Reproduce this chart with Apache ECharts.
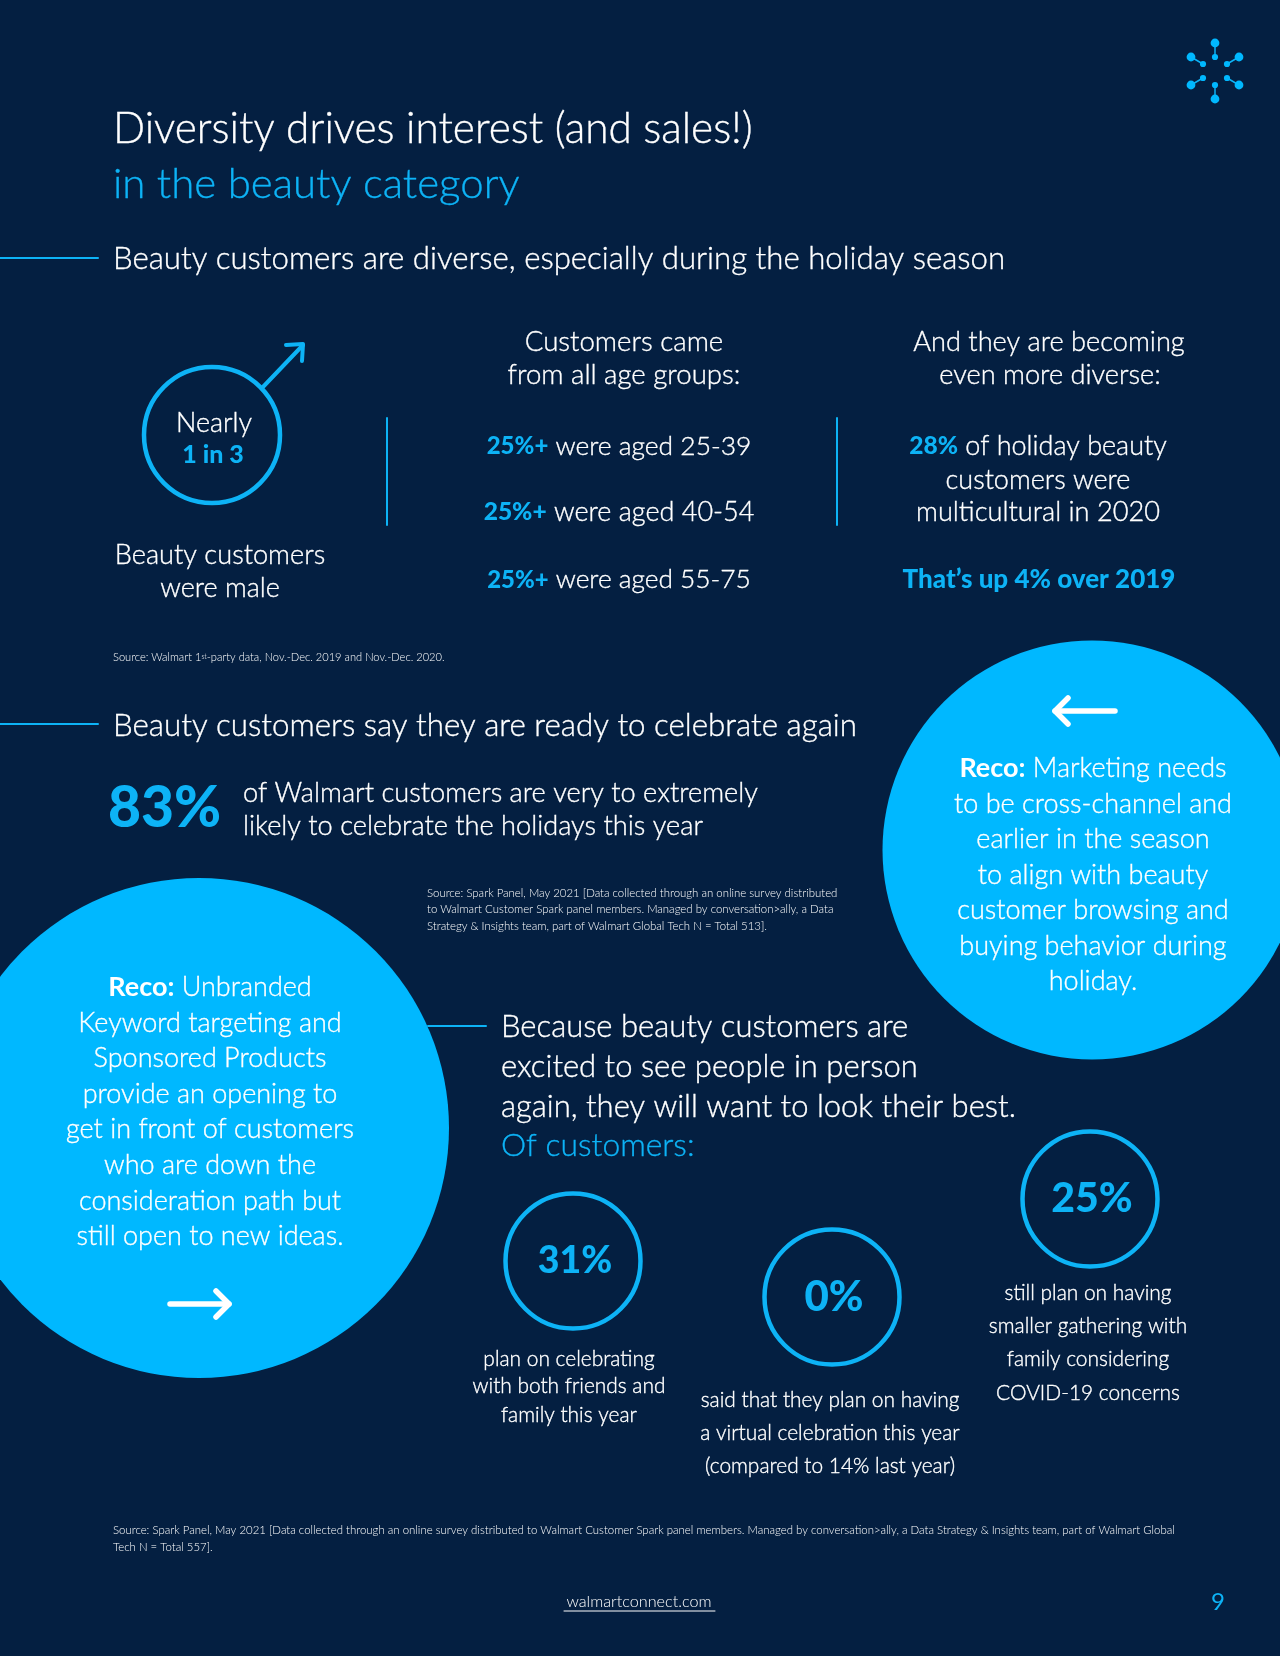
<!DOCTYPE html>
<html><head><meta charset="utf-8">
<style>html,body{margin:0;padding:0;background:#041f41}#c{width:1280px;height:1656px}</style>
<script src="https://cdn.jsdelivr.net/npm/echarts@6/dist/echarts.min.js"></script></head>
<body><div id="c"></div>
<script>
// Values
const ageGroups = ['25-39', '40-54', '55-75'];
const ageShares = ['25%+', '25%+', '25%+'];
const multicultural2020 = 28;
const upOver2019 = 4;
const readyToCelebrate = 83;
const planShares = [31, 0, 25];

const BG = '#041f41', ACC = '#0db3f6', BIG = '#00b8ff', W = '#ffffff';
const FF = 'Lato';
const BODY = 27;
const THICK = 0.35;
const els = [];
function txt(x, y, text, size, o) {
  o = o || {};
  const wt = o.w || 300;
  const c = o.c || W;
  const isRich = text.indexOf('{') >= 0;
  const st = { text: text, fontSize: size, fontFamily: FF, fontWeight: wt,
    fill: c, align: o.a || 'left', verticalAlign: 'middle' };
  if (isRich) st.rich = o.rich;
  if (wt === 300 && !o.thin && !isRich) { st.stroke = c; st.lineWidth = THICK; }
  els.push({ type: 'text', x: x, y: y, z: 10, style: st });
}
function rich(size) { return {
  b: { fontSize: size * 0.91, fontFamily: FF, fontWeight: 900, fill: ACC },
  w: { fontSize: size, fontFamily: FF, fontWeight: 700, fill: W },
  n: { fontSize: size, fontFamily: FF, fontWeight: 300, fill: W, stroke: W, lineWidth: THICK } }; }
function ring(cx, cy, r, lw, c) { els.push({ type: 'circle', shape: { cx, cy, r }, z: 4, style: { fill: 'transparent', stroke: c || ACC, lineWidth: lw || 4.5 } }); }
function disc(cx, cy, r, c) { els.push({ type: 'circle', shape: { cx, cy, r }, z: 2, style: { fill: c || BIG } }); }
function line(x1, y1, x2, y2, c, lw) { els.push({ type: 'line', shape: { x1, y1, x2, y2 }, z: 5, style: { stroke: c || ACC, lineWidth: lw || 2, lineCap: 'round' } }); }
function poly(pts, c, lw) { els.push({ type: 'polyline', shape: { points: pts }, z: 5, style: { stroke: c, lineWidth: lw, fill: 'transparent', lineCap: 'round', lineJoin: 'round' } }); }

// Logo
const logoC = [1215, 71];
[[0,-28,0,-14],[-24,-14,-12,-7],[24,-14,12,-7],[-24,14,-12,7],[24,14,12,7],[0,28,0,14]].forEach(d => {
  line(logoC[0]+d[0], logoC[1]+d[1], logoC[0]+d[2], logoC[1]+d[3], ACC, 1.5);
  els.push({ type:'circle', z:6, shape:{cx:logoC[0]+d[0],cy:logoC[1]+d[1],r:4.4}, style:{fill:BIG} });
  els.push({ type:'circle', z:6, shape:{cx:logoC[0]+d[2],cy:logoC[1]+d[3],r:3.1}, style:{fill:BIG} });
});

// Titles
txt(113, 129, 'Diversity drives interest (and sales!)', 42.3);
txt(113, 184, 'in the beauty category', 42, { c: ACC });
line(0, 258, 98, 258);
txt(113, 259, 'Beauty customers are diverse, especially during the holiday season', 31.2);

// Male symbol
ring(212, 435, 68);
line(262, 388, 303, 345, ACC, 4); poly([[286,345],[303,344],[302,361]], ACC, 4);
txt(214, 423, 'Nearly', BODY, { a: 'center' });
txt(213, 455, '1 in 3', 25, { a: 'center', w: 900, c: ACC });
txt(220, 555, 'Beauty customers', 27.2, { a: 'center' });
txt(220, 588, 'were male', BODY, { a: 'center' });
line(387, 418, 387, 525); line(837, 418, 837, 525);

// Age groups
txt(624, 342, 'Customers came', 27.6, { a: 'center' });
txt(624, 375, 'from all age groups:', 27.6, { a: 'center' });
const ageSize = [26.4, 27, 26.3];
[446, 512, 580].forEach((y, i) => txt(619, y, '{b|' + ageShares[i] + '} {n|were aged ' + ageGroups[i] + '}', ageSize[i], { a: 'center', rich: rich(ageSize[i]) }));

// More diverse
txt(1049, 342, 'And they are becoming', 27.2, { a: 'center' });
txt(1050, 375, 'even more diverse:', 27.2, { a: 'center' });
txt(1038, 446, '{b|' + multicultural2020 + '%} {n|of holiday beauty}', BODY, { a: 'center', rich: rich(BODY) });
txt(1038, 480, 'customers were', BODY, { a: 'center' });
txt(1038, 512, 'multicultural in 2020', 27.2, { a: 'center' });
txt(1039, 580, 'That\u2019s up ' + upOver2019 + '% over 2019', 26, { a: 'center', w: 900, c: ACC });

txt(113, 657, '{n|Source: Walmart 1}{s|st}{n|-party data, Nov.-Dec. 2019 and Nov.-Dec. 2020.}', 11.1, { rich: { n: { fontSize: 11.1, fontFamily: FF, fontWeight: 300, fill: W }, s: { fontSize: 7, fontFamily: FF, fontWeight: 300, fill: W } } });

// Ready to celebrate
line(0, 724, 98, 724);
txt(113, 726, 'Beauty customers say they are ready to celebrate again', 31.3);
txt(108, 809, readyToCelebrate + '%', 57, { w: 900, c: ACC });
txt(243, 793, 'of Walmart customers are very to extremely', 27.2);
txt(243, 826, 'likely to celebrate the holidays this year', 27.2);
['Source: Spark Panel, May 2021 [Data collected through an online survey distributed',
 'to Walmart Customer Spark panel members. Managed by conversation>ally, a Data',
 'Strategy & Insights team, part of Walmart Global Tech N = Total 513].'].forEach((s, i) => txt(427, [893, 909, 926][i], s, 11.4, { thin: true }));

// Reco right
disc(1092, 850, 209.5);
line(1055, 711, 1115, 711, W, 5.5); poly([[1068,698],[1055,711],[1068,724]], W, 5.5);
const recoR = ['{w|Reco:} {n|Marketing needs}', 'to be cross-channel and', 'earlier in the season', 'to align with beauty', 'customer browsing and', 'buying behavior during', 'holiday.'];
recoR.forEach((s, i) => txt(1093, [768,804,839,875,910,946,981][i], s, BODY, { a: 'center', rich: rich(BODY) }));

// Reco left
disc(199, 1128, 250);
const recoL = ['{w|Reco:} {n|Unbranded}', 'Keyword targeting and', 'Sponsored Products', 'provide an opening to', 'get in front of customers', 'who are down the', 'consideration path but', 'still open to new ideas.'];
recoL.forEach((s, i) => txt(210, [987,1023,1058,1094,1129,1165,1201,1236][i], s, BODY, { a: 'center', rich: rich(BODY) }));
line(170, 1304, 229, 1304, W, 5.5); poly([[216,1291],[229,1304],[216,1317]], W, 5.5);

// Because
line(428, 1026, 486, 1026);
['Because beauty customers are', 'excited to see people in person', 'again, they will want to look their best.'].forEach((s, i) => txt(501, [1027,1067,1107][i], s, 31));
txt(501, 1146, 'Of customers:', 31.8, { c: ACC });

// Plan circles
const planPos = [[573,1261],[832,1297],[1090,1199]];
const planSize = [37.5, 42, 41];
const planLabelPos = [[575,1261],[834,1297],[1092,1199]];
planShares.forEach((v, i) => { ring(planPos[i][0], planPos[i][1], 67.5);
  txt(planLabelPos[i][0], planLabelPos[i][1], v + '%', planSize[i], { a: 'center', w: 900, c: ACC }); });
[['plan on celebrating','with both friends and','family this year'],
 ['said that they plan on having','a virtual celebration this year','(compared to 14% last year)'],
 ['still plan on having','smaller gathering with','family considering','COVID-19 concerns']].forEach((ls, k) => {
  const cx = [569, 830, 1088][k], ys = [[1359,1386,1415],[1400,1433,1466],[1293,1326,1359,1393]][k];
  ls.forEach((s, i) => txt(cx, ys[i], s, 20.9, { a: 'center' }));
});

// Footer
txt(113, 1530, 'Source: Spark Panel, May 2021 [Data collected through an online survey distributed to Walmart Customer Spark panel members. Managed by conversation>ally, a Data Strategy & Insights team, part of Walmart Global', 11.42, { thin: true });
txt(113, 1547, 'Tech N = Total 557].', 11.42, { thin: true });
txt(639, 1602, 'walmartconnect.com', 16.2, { a: 'center', thin: true });
line(564, 1611, 715, 1611, W, 1);
txt(1218, 1602, '9', 24, { a: 'center', w: 400, c: ACC });

const chart = echarts.init(document.getElementById('c'), null, { renderer: 'canvas', width: 1280, height: 1656 });
chart.setOption({ backgroundColor: BG, animation: false, graphic: { elements: els } });
</script></body></html>
